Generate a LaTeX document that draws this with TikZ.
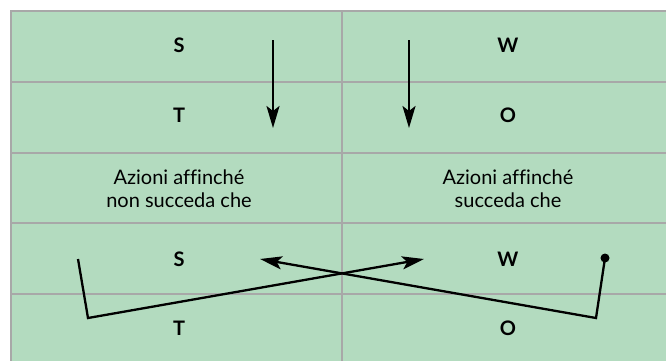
\documentclass[tikz,border=0pt]{standalone}
\usepackage{fontspec}
\setmainfont{Lato}[Ligatures=NoCommon]
\usetikzlibrary{arrows.meta}

\definecolor{cellgreen}{RGB}{179,219,191}
\definecolor{rulegray}{RGB}{168,168,168}

\begin{document}
\begin{tikzpicture}[x=1pt, y=1pt,
        letter/.style={font=\fontsize{20}{24}\selectfont\bfseries, inner sep=0pt},
        phrase/.style={font=\fontsize{20}{23}\selectfont, align=center, inner sep=0pt},
        move/.style={line width=2.3pt, -{Stealth[length=22pt, width=13pt, inset=5pt]}},
        grid line/.style={rulegray, line width=2.2pt}]
        \useasboundingbox (0, 0) rectangle (666, -360);
        \clip (0, 0) rectangle (666, -360);

        % table
        \fill[cellgreen] (11, -11) rectangle (690, -380);
        \draw[grid line] (11, -380) -- (11, -11) -- (690, -11);
        \foreach \y in {-82, -153, -223, -294}
            \draw[grid line] (11, \y) -- (690, \y);
        \draw[grid line] (342, -11) -- (342, -380);

        % cells
        \draw (179, -45) node[letter] (s1) {S};
        \draw (179, -115) node[letter] (t1) {T};
        \draw (508, -45) node[letter] (w1) {W};
        \draw (508, -115) node[letter] (o1) {O};

        \draw (179, -189) node[phrase] (notL) {Azioni affinché\\non succeda che};
        \draw (508, -189) node[phrase] (yesR) {Azioni affinché\\succeda che};

        \draw (179, -259) node[letter] (s2) {S};
        \draw (179, -328) node[letter] (t2) {T};
        \draw (508, -259) node[letter] (w2) {W};
        \draw (508, -328) node[letter] (o2) {O};

        % arrows
        \coordinate (a1) at (273, -40);
        \coordinate (a2) at (273, -128);
        \coordinate (b1) at (409, -40);
        \coordinate (b2) at (409, -128);
        \draw[move] (a1) -- (a2);
        \draw[move] (b1) -- (b2);

        \coordinate (l1) at (78, -259);
        \coordinate (l2) at (88, -318);
        \coordinate (l3) at (424, -259);
        \coordinate (r1) at (605, -258);
        \coordinate (r2) at (596, -318);
        \coordinate (r3) at (260, -259);
        \draw[move] (l1) -- (l2) -- (l3);
        \draw[move] (r1) -- (r2) -- (r3);
        \fill (r1) circle (4.5);
    \end{tikzpicture}
\end{document}
